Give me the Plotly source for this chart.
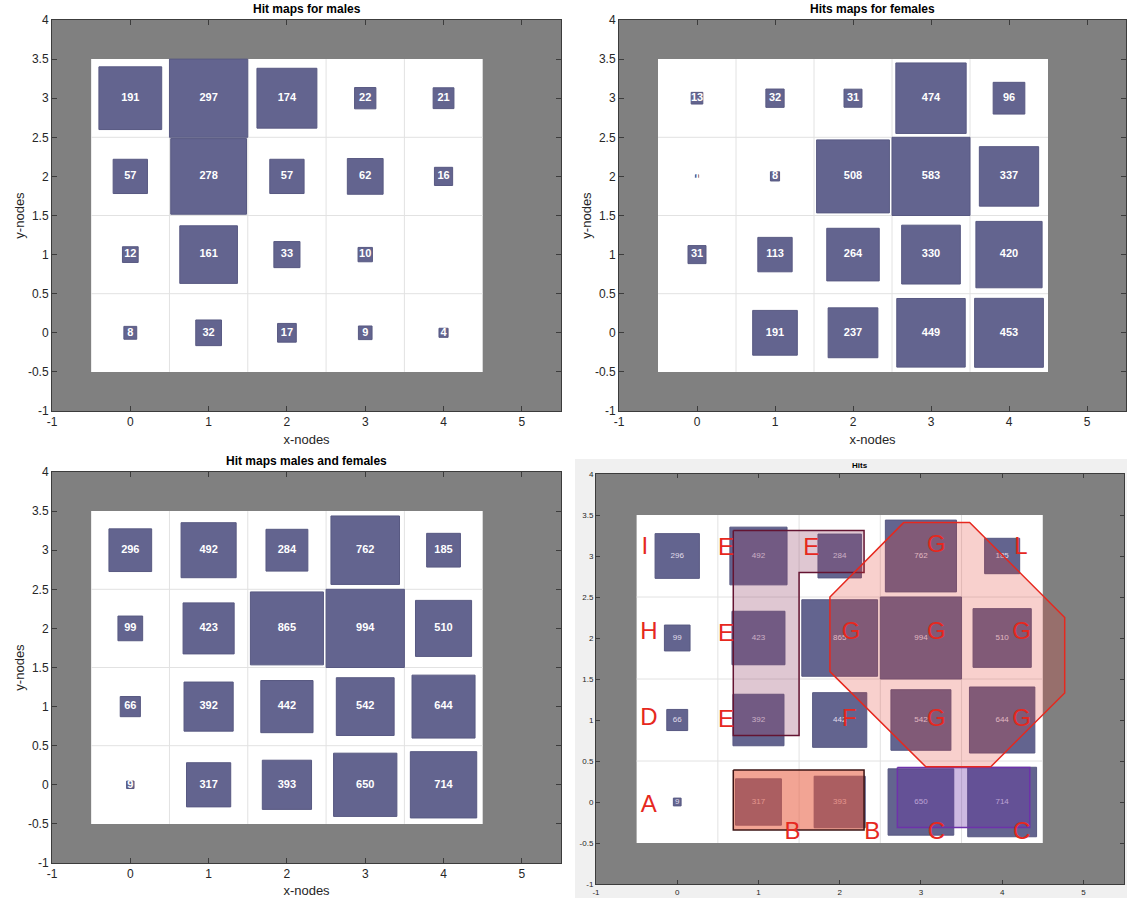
import math
import plotly.graph_objects as go

# ---------------- data ----------------
x_nodes = [0, 1, 2, 3, 4]
y_nodes = [3, 2, 1, 0]  # rows from top to bottom

hits_males = [
    [191, 297, 174, 22, 21],
    [57, 278, 57, 62, 16],
    [12, 161, 33, 10, 0],
    [8, 32, 17, 9, 4],
]
hits_females = [
    [13, 32, 31, 474, 96],
    [1, 8, 508, 583, 337],
    [31, 113, 264, 330, 420],
    [0, 191, 237, 449, 453],
]
hits_all = [
    [296, 492, 284, 762, 185],
    [99, 423, 865, 994, 510],
    [66, 392, 442, 542, 644],
    [9, 317, 393, 650, 714],
]

panel_titles = ["Hit maps for males", "Hits maps for females",
                "Hit maps males and females", "Hits"]

x_tick_vals = [-1, 0, 1, 2, 3, 4, 5]
x_tick_text = ["-1", "0", "1", "2", "3", "4", "5"]
y_tick_vals = [-1, -0.5, 0, 0.5, 1, 1.5, 2, 2.5, 3, 3.5, 4]
y_tick_text = ["-1", "-0.5", "0", "0.5", "1", "1.5", "2", "2.5", "3", "3.5", "4"]

# overlay regions in the "Hits" panel
region_E_x = [0.69, 2.30, 2.30, 1.50, 1.50, 0.69, 0.69]
region_E_y = [3.31, 3.31, 2.80, 2.80, 0.81, 0.81, 3.31]
region_B_x = [0.69, 2.30, 2.30, 0.69, 0.69]
region_B_y = [0.39, 0.39, -0.34, -0.34, 0.39]
region_C_x = [2.71, 4.34, 4.34, 2.71, 2.71]
region_C_y = [0.42, 0.42, -0.31, -0.31, 0.42]
region_G_x = [2.79, 3.60, 4.77, 4.77, 3.86, 3.06, 1.88, 1.88, 2.79]
region_G_y = [3.41, 3.41, 2.25, 1.33, 0.43, 0.43, 1.59, 2.50, 3.41]

letters = ["I", "E", "E", "G", "L", "H", "E", "G", "G", "G",
           "D", "E", "F", "G", "G", "A", "B", "B", "C", "C"]
letter_x = [-0.40, 0.60, 1.65, 3.19, 4.23, -0.35, 0.60, 2.14, 3.19, 4.24,
            -0.35, 0.60, 2.12, 3.19, 4.24, -0.35, 1.42, 2.40, 3.19, 4.24]
letter_y = [3.10, 3.08, 3.08, 3.12, 3.10, 2.06, 2.04, 2.06, 2.06, 2.06,
            1.01, 0.99, 1.00, 1.00, 1.00, -0.05, -0.38, -0.38, -0.38, -0.38]

# ---------------- layout geometry ----------------
W, H = 1127, 898
# pixel boxes of each axes: (left, right, top, bottom)
axes_px = [
    (52, 561, 20, 411),
    (619, 1126, 20, 411),
    (52, 561, 472, 863),
    (596, 1124, 474, 884),
]
X_RANGE = [-1, 5.5]
Y_RANGE = [-1, 4]

BOX_COLOR = "rgb(99,100,143)"
AXES_BG = "rgb(128,128,128)"
FONT = "Liberation Sans, Arial, Helvetica, sans-serif"

fig = go.Figure()


def squares(hits):
    mx = max(max(r) for r in hits)
    xs, ys, tx, ty, tt = [], [], [], [], []
    for ri, row in enumerate(hits):
        for ci, v in enumerate(row):
            if v <= 0:
                continue
            s = math.sqrt(v / mx) / 2.0
            cx, cy = x_nodes[ci], y_nodes[ri]
            xs += [cx - s, cx + s, cx + s, cx - s, cx - s, None]
            ys += [cy - s, cy - s, cy + s, cy + s, cy - s, None]
            tx.append(cx)
            ty.append(cy)
            tt.append(str(v))
    return xs, ys, tx, ty, tt


# light gray figure background of the 4th panel
shapes = [dict(type="rect", xref="paper", yref="paper",
               x0=575 / W, x1=1.0, y0=0, y1=1 - 459 / H,
               fillcolor="rgb(240,240,240)", line=dict(width=0), layer="below")]

all_hits = [hits_males, hits_females, hits_all, hits_all]
for i, hits in enumerate(all_hits):
    n = i + 1
    xa = "x" if n == 1 else f"x{n}"
    ya = "y" if n == 1 else f"y{n}"
    small = (n == 4)
    # gray axes background
    shapes.append(dict(type="rect", xref=xa, yref=ya, x0=X_RANGE[0], x1=X_RANGE[1],
                       y0=Y_RANGE[0], y1=Y_RANGE[1], fillcolor=AXES_BG,
                       line=dict(width=0), layer="below"))
    # white map area and cell grid
    x0, x1 = min(x_nodes) - 0.5, max(x_nodes) + 0.5
    y0, y1 = min(y_nodes) - 0.5, max(y_nodes) + 0.5
    shapes.append(dict(type="rect", xref=xa, yref=ya, x0=x0, x1=x1, y0=y0, y1=y1,
                       fillcolor="white", line=dict(width=0), layer="below"))
    for gx in x_nodes[:-1]:
        shapes.append(dict(type="line", xref=xa, yref=ya, x0=gx + 0.5, x1=gx + 0.5,
                           y0=y0, y1=y1, line=dict(color="rgb(226,226,226)", width=1),
                           layer="below"))
    for gy in sorted(y_nodes)[:-1]:
        shapes.append(dict(type="line", xref=xa, yref=ya, x0=x0, x1=x1,
                           y0=gy + 0.5, y1=gy + 0.5,
                           line=dict(color="rgb(226,226,226)", width=1), layer="below"))

    xs, ys, tx, ty, tt = squares(hits)
    fig.add_trace(go.Scatter(x=xs, y=ys, mode="lines", fill="toself",
                             fillcolor=BOX_COLOR,
                             line=dict(color="rgb(88,89,130)", width=1),
                             xaxis=xa, yaxis=ya, hoverinfo="skip", showlegend=False))
    fig.add_trace(go.Scatter(x=tx, y=ty, mode="text", text=tt,
                             textfont=dict(family=FONT, size=8 if small else 11,
                                           color="rgb(225,222,235)" if small else "white",
                                           weight="normal" if small else "bold"),
                             xaxis=xa, yaxis=ya, hoverinfo="skip", showlegend=False))

# overlays in the "Hits" panel
overlays = [
    (region_E_x, region_E_y, "rgba(150,70,105,0.30)", "rgb(100,20,50)", 1.5),
    (region_B_x, region_B_y, "rgba(231,89,61,0.55)", "rgb(60,20,20)", 1.5),
    (region_C_x, region_C_y, "rgba(103,42,164,0.33)", "rgb(110,50,170)", 1.5),
    (region_G_x, region_G_y, "rgba(225,58,46,0.24)", "rgb(230,40,30)", 1.5),
]
for ox, oy, fc, lc, lw in overlays:
    fig.add_trace(go.Scatter(x=ox, y=oy, mode="lines", fill="toself", fillcolor=fc,
                             line=dict(color=lc, width=lw), xaxis="x4", yaxis="y4",
                             hoverinfo="skip", showlegend=False))
fig.add_trace(go.Scatter(x=letter_x, y=letter_y, mode="text", text=letters,
                         textfont=dict(family=FONT, size=24, color="rgb(230,40,30)"),
                         xaxis="x4", yaxis="y4", hoverinfo="skip", showlegend=False))

layout = dict(
    width=W, height=H, margin=dict(l=0, r=0, t=0, b=0, autoexpand=False),
    paper_bgcolor="white", plot_bgcolor=AXES_BG,
    showlegend=False, shapes=shapes, annotations=[],
    font=dict(family=FONT, color="rgb(38,38,38)"),
)

for i, (l, r, t, b) in enumerate(axes_px):
    n = i + 1
    small = (n == 4)
    xk = "xaxis" if n == 1 else f"xaxis{n}"
    yk = "yaxis" if n == 1 else f"yaxis{n}"
    ya_name = "y" if n == 1 else f"y{n}"
    xa_name = "x" if n == 1 else f"x{n}"
    tf = dict(family=FONT, size=8 if small else 12, color="rgb(38,38,38)")
    common = dict(showgrid=False, zeroline=False, showline=True, mirror="ticks",
                  linecolor="rgb(60,60,60)", linewidth=1, ticks="inside",
                  ticklen=4 if small else 5, tickcolor="rgb(60,60,60)",
                  tickfont=tf, fixedrange=True, automargin=False)
    xax = dict(common, domain=[l / W, r / W], range=X_RANGE, anchor=ya_name,
               tickvals=x_tick_vals, ticktext=x_tick_text)
    yax = dict(common, domain=[1 - b / H, 1 - t / H], range=Y_RANGE, anchor=xa_name,
               tickvals=y_tick_vals, ticktext=y_tick_text)
    if not small:
        xax["title"] = dict(text="x-nodes", font=dict(family=FONT, size=13,
                                                       color="rgb(38,38,38)"), standoff=6)
        yax["title"] = dict(text="y-nodes", font=dict(family=FONT, size=13,
                                                       color="rgb(38,38,38)"), standoff=0)
    layout[xk] = xax
    layout[yk] = yax
    layout["annotations"].append(dict(
        text=f"<b>{panel_titles[i]}</b>", xref="paper", yref="paper",
        x=(l + r) / 2 / W, y=1 - (t - 2) / H, xanchor="center", yanchor="bottom",
        showarrow=False, font=dict(family=FONT, size=8 if small else 12, color="black")))

fig.update_layout(**layout)
fig.write_html("out.html", config={"displayModeBar": False},
               post_script="document.body.style.margin='0px';"
                           "document.body.style.overflow='hidden';")
